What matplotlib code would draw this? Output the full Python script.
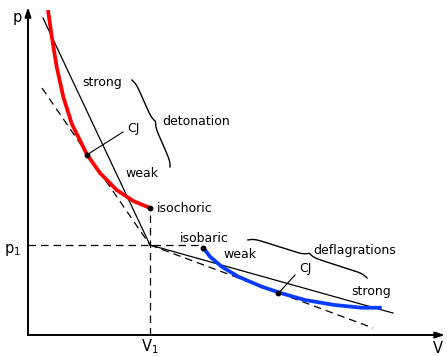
import numpy as np
import matplotlib
matplotlib.use("Agg")
import matplotlib.pyplot as plt

# ---- data (V, p in units of the initial state V1 = p1 = 1) ----
V1, p1 = 1.0, 1.0
# detonation branch of the Hugoniot curve (red)
det_V = [0.164, 0.194, 0.235, 0.289, 0.358, 0.481, 0.590, 0.727, 0.863, 1.0]
det_p = [3.611, 3.322, 2.981, 2.648, 2.350, 2.011, 1.800, 1.611, 1.489, 1.411]
# deflagration branch of the Hugoniot curve (blue)
defl_V = [1.437, 1.492, 1.588, 1.724, 1.916, 2.080, 2.270, 2.516, 2.735, 2.899]
defl_p = [0.970, 0.870, 0.759, 0.648, 0.537, 0.463, 0.389, 0.333, 0.303, 0.303]
# Rayleigh lines (far end points; other end at V1, p1)
strong_det_end = (0.123, 3.522)
cj_det_end = (0.115, 2.744)
defl_line_end = (2.992, 0.244)
cj_defl_end = (2.828, 0.078)
# special points
cj_det_pt = (0.481, 2.0)
cj_defl_pt = (2.052, 0.463)
isochoric_pt = (1.0, 1.411)
isobaric_pt = (1.437, 0.970)

RED = "#ff0000"
BLUE = "#0a3cff"

fig = plt.figure(figsize=(4.47, 3.56), dpi=100)
ax = fig.add_axes([0, 0, 1, 1])
ax.set_xlim(-28 / 122, (447 - 28) / 122)
ax.set_ylim(-(356 - 335) / 90, 335 / 90)
ax.axis("off")

# axes with arrows
ax.annotate("", xy=(0, 3.644), xytext=(0, 0),
            arrowprops=dict(arrowstyle="-|>,head_width=0.18,head_length=0.55",
                            color="black", lw=1.4, shrinkA=0, shrinkB=0))
ax.annotate("", xy=(3.418, 0), xytext=(0, 0),
            arrowprops=dict(arrowstyle="-|>,head_width=0.18,head_length=0.55",
                            color="black", lw=1.4, shrinkA=0, shrinkB=0))

dash = dict(color="black", lw=0.9, ls=(0, (6, 4)))
# reference dashed lines
ax.plot([0, isobaric_pt[0]], [p1, p1], **dash)
ax.plot([V1, V1], [0, isochoric_pt[1]], **dash)
# Rayleigh lines
ax.plot([strong_det_end[0], V1], [strong_det_end[1], p1], color="black", lw=0.9)
ax.plot([cj_det_end[0], V1], [cj_det_end[1], p1], **dash)
ax.plot([V1, defl_line_end[0]], [p1, defl_line_end[1]], color="black", lw=0.9)
ax.plot([V1, cj_defl_end[0]], [p1, cj_defl_end[1]], **dash)

# Hugoniot branches
ax.plot(det_V, det_p, color=RED, lw=2.7, solid_capstyle="butt", solid_joinstyle="round")
ax.plot(defl_V, defl_p, color=BLUE, lw=2.7, solid_capstyle="butt", solid_joinstyle="round")

# dots
for pt in (cj_det_pt, cj_defl_pt, isochoric_pt, isobaric_pt):
    ax.plot(*pt, "o", color="black", ms=3.2, zorder=5)

fs = 9
tk = dict(fontsize=fs, color="black", family="DejaVu Sans")
ax.text(-0.09, 3.53, "p", ha="center", va="center", fontsize=10.5)
ax.text(-0.131, 0.95, "p$_1$", ha="center", va="center", fontsize=10.5)
ax.text(1.0, -0.125, "V$_1$", ha="center", va="center", fontsize=10.5)
ax.text(3.36, -0.155, "V", ha="center", va="center", fontsize=10.5)

ax.text(0.607, 2.811, "strong", ha="center", va="center", **tk)
ax.text(0.861, 2.289, "CJ", ha="center", va="center", **tk)
ax.plot([0.779, cj_det_pt[0]], [2.256, cj_det_pt[1]], color="black", lw=0.8)
ax.text(1.098, 2.367, "detonation", ha="left", va="center", **tk)
ax.text(0.795, 1.789, "weak", ha="left", va="center", **tk)
ax.text(1.057, 1.411, "isochoric", ha="left", va="center", **tk)
ax.text(1.246, 1.067, "isobaric", ha="left", va="center", **tk)
ax.text(1.738, 0.889, "weak", ha="center", va="center", **tk)
ax.text(2.336, 0.944, "deflagrations", ha="left", va="center", **tk)
ax.text(2.27, 0.744, "CJ", ha="center", va="center", **tk)
ax.plot([2.189, cj_defl_pt[0]], [0.667, cj_defl_pt[1]], color="black", lw=0.8)
ax.text(2.811, 0.478, "strong", ha="center", va="center", **tk)


def brace(p0, p1_, depth, beta=0.35, lw=1.0):
    P0 = ax.transData.transform(p0)
    P1 = ax.transData.transform(p1_)
    d = P1 - P0
    L = np.hypot(*d)
    u = d / L
    n = np.array([-u[1], u[0]])
    t = np.linspace(0, L, 401)
    half = t[:201]
    yh = (1 / (1 + np.exp(-beta * (half - half[0])))
          + 1 / (1 + np.exp(-beta * (half - half[-1]))))
    y = np.concatenate((yh, yh[-2::-1])) - 0.5
    pts = P0[None, :] + t[:, None] * u[None, :] + (depth * y)[:, None] * n[None, :]
    data = ax.transData.inverted().transform(pts)
    ax.plot(data[:, 0], data[:, 1], color="black", lw=lw)


brace((0.852, 2.833), (1.164, 1.867), 5.0)
brace((1.803, 1.056), (2.779, 0.633), 6.0)

fig.savefig("out.png", dpi=100)
